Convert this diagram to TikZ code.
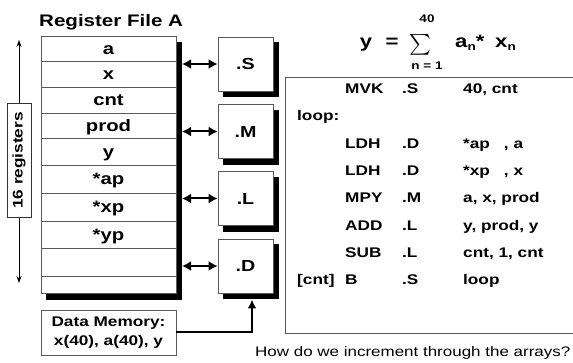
\documentclass[tikz,border=0pt]{standalone}
\usepackage{amsmath}
\usepackage{fontspec}
\setmainfont[FakeStretch=1.23]{Liberation Sans}
\usetikzlibrary{arrows.meta}

% columns of the code listing
\newcommand{\lblcol}[1]{\makebox[48pt][l]{#1}}
\newcommand{\opcol}[1]{\makebox[57pt][l]{#1}}
\newcommand{\unitcol}[1]{\makebox[61pt][l]{#1}}
\newcommand{\subn}{\raisebox{-3pt}{\fontsize{11}{12}\selectfont n}}

\tikzset{
  regcell/.style={draw=black!65, line width=0.7pt, fill=white, minimum width=135pt,
    inner sep=0pt, text height=13pt, text depth=1pt, font=\fontsize{16.5}{18}\selectfont\bfseries},
  unitbox/.style={draw=black!65, line width=0.7pt, fill=white, minimum width=55pt,
    minimum height=54pt, inner sep=0pt, font=\fontsize{16}{18}\selectfont\bfseries},
  shadowbox/.style={fill=black, draw=black, line width=1pt, inner sep=0pt},
  busarrow/.style={line width=2pt, {Latex[length=9pt,width=10pt]}-{Latex[length=9pt,width=10pt]}},
  thinarrow/.style={line width=0.7pt, -{Stealth[length=7pt,width=5pt]}},
  codeline/.style={anchor=west, inner sep=0pt, text height=10pt, text depth=0pt,
    font=\fontsize{14}{16}\selectfont\bfseries},
  bigsym/.style={anchor=base, inner sep=0pt, font=\fontsize{18}{20}\selectfont\bfseries},
}

\begin{document}
\begin{tikzpicture}[x=1pt, y=-1pt]
  \useasboundingbox (0,0) rectangle (573,363);

  % Title
  \node[anchor=base west, inner sep=0pt, font=\fontsize{16.7}{18}\selectfont\bfseries] (title) at (39,27) {Register File A};

  % Register file, shadow first
  \node[shadowbox, minimum width=135pt, minimum height=257pt] (regshadow) at (114,171) {};
  \node[regcell, minimum height=25pt] (ra) at (108.5,48.5) {a};
  \node[regcell, minimum height=26pt] (rx) at (108.5,74) {x};
  \node[regcell, minimum height=26pt] (rcnt) at (108.5,100) {cnt};
  \node[regcell, minimum height=25pt] (rprod) at (108.5,125.5) {prod};
  \node[regcell, minimum height=27pt] (ry) at (108.5,151.5) {y};
  \node[regcell, minimum height=28pt] (rap) at (108.5,179) {*ap};
  \node[regcell, minimum height=28pt] (rxp) at (108.5,207) {*xp};
  \node[regcell, minimum height=27pt] (ryp) at (108.5,234.5) {*yp};
  \node[regcell, minimum height=28pt] (rfree) at (108.5,262) {};
  \node[regcell, minimum height=17pt] (rlast) at (108.5,284.5) {};
  \coordinate (bus) at (regshadow.north east);

  % Register count on the left
  \node[draw=black!80, line width=0.7pt, rotate=90, minimum width=114pt, minimum height=24pt,
    inner sep=0pt, font=\fontsize{14}{16}\selectfont\bfseries] (nreg) at (19,160.5) {16 registers};
  \coordinate (regtop) at (19,40);
  \coordinate (regbot) at (19,283);
  \draw[thinarrow] (nreg.east) -- (regtop);
  \draw[thinarrow] (nreg.west) -- (regbot);

  % Functional units, shadows first
  \node[shadowbox, minimum width=55pt, minimum height=54pt] (ss) at (251,70) {};
  \node[shadowbox, minimum width=55pt, minimum height=54pt] (sm) at (251,137.5) {};
  \node[shadowbox, minimum width=55pt, minimum height=54pt] (sl) at (251,204.5) {};
  \node[shadowbox, minimum width=55pt, minimum height=54pt] (sd) at (251,272) {};
  \node[unitbox] (us) at (245.5,64) {.S};
  \node[unitbox] (um) at (245.5,131.5) {.M};
  \node[unitbox] (ul) at (245.5,198.5) {.L};
  \node[unitbox] (ud) at (245.5,266) {.D};

  \draw[busarrow] (bus |- us.west) -- (us.west);
  \draw[busarrow] (bus |- um.west) -- (um.west);
  \draw[busarrow] (bus |- ul.west) -- (ul.west);
  \draw[busarrow] (bus |- ud.west) -- (ud.west);

  % Data memory
  \node[draw=black!65, line width=0.7pt, fill=white, minimum width=135pt, minimum height=45pt,
    inner sep=0pt, align=center, font=\fontsize{14}{19}\selectfont\bfseries] (mem) at (108.5,332.5)
    {Data Memory:\\x(40), a(40), y};
  \draw[line width=2pt, -{Latex[length=9pt,width=9pt]}] (mem.east) -| ([xshift=1pt]sd.south);

  % Formula
  \node[bigsym] (fy) at (366,48) {y};
  \node[bigsym] (feq) at (392,48) {=};
  \node[inner sep=0pt, font=\fontsize{20}{22}\selectfont] (fsum) at (420,45) {$\textstyle\sum$};
  \node[inner sep=0pt, font=\fontsize{11}{12}\selectfont\bfseries] (fupper) at (427,19) {40};
  \node[inner sep=0pt, font=\fontsize{11}{12}\selectfont\bfseries] (flower) at (427,66) {n = 1};
  \node[bigsym, anchor=base west] (fa) at (455,48) {a\subn*};
  \node[bigsym, anchor=base west] (fx) at (495,48) {x\subn};

  % Code listing
  \draw[black!65, line width=0.8pt] (600,77) -- (285,77) -- (285,333) -- (600,333);
  \node[codeline] (c1) at (297,89) {\lblcol{}\opcol{MVK}\unitcol{.S}40, cnt};
  \node[codeline] (c2) at (297,116) {loop:};
  \node[codeline] (c3) at (297,144) {\lblcol{}\opcol{LDH}\unitcol{.D}*ap\hspace{14pt}, a};
  \node[codeline] (c4) at (297,171) {\lblcol{}\opcol{LDH}\unitcol{.D}*xp\hspace{14pt}, x};
  \node[codeline] (c5) at (297,198) {\lblcol{}\opcol{MPY}\unitcol{.M}a, x, prod};
  \node[codeline] (c6) at (297,226) {\lblcol{}\opcol{ADD}\unitcol{.L}y, prod, y};
  \node[codeline] (c7) at (297,253) {\lblcol{}\opcol{SUB}\unitcol{.L}cnt, 1, cnt};
  \node[codeline] (c8) at (297,280) {\lblcol{[cnt]}\opcol{B}\unitcol{.S}loop};

  % Question below
  \node[anchor=base west, inner sep=0pt, font=\fontsize{13.8}{16}\selectfont] (question) at (255,356.5)
    {How do we increment through the arrays?};
\end{tikzpicture}
\end{document}
